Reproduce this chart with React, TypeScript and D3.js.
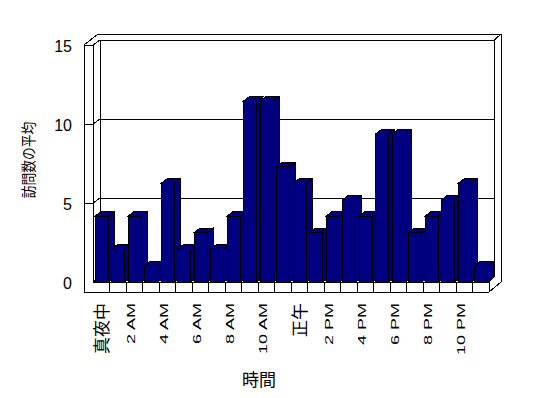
import React from 'react';
import * as d3 from 'd3';

// ---- data ----
const hours: number[] = [0, 1, 2, 3, 4, 5, 6, 7, 8, 9, 10, 11, 12, 13, 14, 15, 16, 17, 18, 19, 20, 21, 22, 23];
const visits: number[] = [4, 2, 4, 1, 6, 2, 3, 2, 4, 11, 11, 7, 6, 3, 4, 5, 4, 9, 9, 3, 4, 5, 6, 1];
const hourLabels: string[] = ['真夜中', '2 AM', '4 AM', '6 AM', '8 AM', '10 AM', '正午', '2 PM', '4 PM', '6 PM', '8 PM', '10 PM'];
const labelHours: number[] = [0, 2, 4, 6, 8, 10, 12, 14, 16, 18, 20, 22];
const yTicks: number[] = [0, 5, 10, 15];
const yTitle = '訪問数の平均';
const xTitle = '時間';

const W = 548;
const H = 398;
const NAVY = '#000080';
const LATIN = "'Liberation Sans', Arial, sans-serif";
const CJK = "'Noto Sans CJK JP', sans-serif";

export default function App() {
  const x = d3.scaleBand<number>().domain(hours).range([93, 489]).padding(0);
  const bw = x.bandwidth();
  const yF = d3.scaleLinear().domain([0, 15]).range([282, 45]); // front axis plane
  const yBar = d3.scaleLinear().domain([0, 15]).range([282, 35.25]); // bar plane
  const DX = 7, DY = 5; // wall depth
  const BDX = 6, BDY = 4.5; // bar depth
  const barW = bw * 0.8;
  const barOff = 2;
  const OUTL = 84; // outer left
  const WIN = 93; // inner left (front)
  const FLOOR = yF(0);
  const FLOORB = FLOOR + 10;
  const RIGHT = 489;
  const TOPO = 34;
  const RO = 501;
  const BR = RIGHT + DX - 1.7;

  const line = (x1: number, y1: number, x2: number, y2: number, k: string) => (
    <line key={k} x1={x1} y1={y1} x2={x2} y2={y2} stroke="#000" strokeWidth={1} />
  );

  const frameLines: JSX.Element[] = [];
  frameLines.push(line(WIN, yF(15), WIN, FLOOR, 'lw-in'));
  frameLines.push(line(WIN + DX, yF(15) - DY, WIN + DX, FLOOR - DY, 'lw-back'));
  frameLines.push(line(WIN + DX, yF(15) - DY, BR, yF(15) - DY, 'bw-top'));
  frameLines.push(line(BR, yF(15) - DY, RO, TOPO, 'bw-tr'));
  frameLines.push(line(BR, yF(15) - DY, BR, FLOOR - DY, 'bw-right'));
  frameLines.push(line(BR, FLOOR - DY, RIGHT, FLOOR, 'fl-right'));
  frameLines.push(line(WIN + DX, FLOOR - DY, BR, FLOOR - DY, 'bw-bottom'));
  frameLines.push(line(WIN, FLOOR, WIN + DX, FLOOR - DY, 'lw-bottom'));
  frameLines.push(line(WIN, FLOOR, RIGHT, FLOOR, 'fl-front'));
  frameLines.push(line(RIGHT, FLOOR, RIGHT, FLOORB, 'fl-rightedge'));
  hours.slice(1).forEach((h) => {
    const xx = x(h) as number;
    frameLines.push(line(xx, FLOOR, xx, FLOORB, 'sep' + h));
  });
  yTicks.filter((t) => t > 0).forEach((t) => {
    const yy = yF(t);
    frameLines.push(line(OUTL, yy, WIN, yy, 'tk' + t));
    frameLines.push(line(WIN, yy, WIN + DX, yy - DY, 'td' + t));
    frameLines.push(line(WIN + DX, yy - DY, BR, yy - DY, 'gl' + t));
  });

  const bars = hours.map((h, i) => {
    const x0 = (x(h) as number) + barOff;
    const x1 = x0 + barW;
    const yt = yBar(visits[i]);
    const yb = yBar(0);
    const top = `M${x0},${yt} L${x0 + BDX},${yt - BDY} L${x1 + BDX},${yt - BDY} L${x1},${yt} Z`;
    const side = `M${x1},${yt} L${x1 + BDX},${yt - BDY} L${x1 + BDX},${yb - BDY} L${x1},${yb} Z`;
    return (
      <g key={'bar' + h}>
        <path d={side} fill={NAVY} stroke="#000" strokeWidth={1} strokeLinejoin="miter" />
        <path d={top} fill={NAVY} stroke="#000" strokeWidth={1} strokeLinejoin="miter" />
        <rect x={x0} y={yt} width={barW} height={yb - yt} fill={NAVY} stroke="#000" strokeWidth={1} />
      </g>
    );
  });

  const isLatin = (s: string) => /[A-Za-z0-9]/.test(s);

  return (
    <svg
      width={W}
      height={H}
      viewBox={`0 0 ${W} ${H}`}
      style={{ position: 'absolute', left: 0, top: 0, background: '#fff' }}
    >
      <rect x={0} y={0} width={W} height={H} fill="#fff" />
      <g shapeRendering="crispEdges">
        <path
          d={`M${OUTL},${yF(15)} L${OUTL + 14},${TOPO} L${RO},${TOPO} L${RO},${FLOOR} L${RIGHT},${FLOORB} L${OUTL},${FLOORB} Z`}
          fill="#fff"
          stroke="#000"
          strokeWidth={1}
        />
        {frameLines}
        {bars}
      </g>
      {yTicks.map((t) => (
        <text
          key={'yl' + t}
          x={72}
          y={yF(t) + 1}
          textAnchor="end"
          dominantBaseline="central"
          fontFamily={LATIN}
          fontSize={16}
          fill="#000"
        >
          {t}
        </text>
      ))}
      {hourLabels.map((lab, k) => {
        const cx = (x(labelHours[k]) as number) + bw / 2;
        if (isLatin(lab)) {
          return (
            <text
              key={'xl' + k}
              transform={`translate(${cx + 0.5},303) rotate(-90) scale(1,0.6)`}
              textAnchor="end"
              fontFamily={LATIN}
              fontSize={18}
              fill="#000"
            >
              {lab}
            </text>
          );
        }
        return (
          <text
            key={'xl' + k}
            transform={`translate(${cx - 1},303) rotate(-90)`}
            textAnchor="end"
            dominantBaseline="central"
            fontFamily={CJK}
            fontSize={17}
            fill="#000"
          >
            {lab}
          </text>
        );
      })}
      <text
        transform="translate(27.5,160) rotate(-90) scale(0.85,1)"
        textAnchor="middle"
        dominantBaseline="central"
        fontFamily={CJK}
        fontSize={15}
        fill="#000"
      >
        {yTitle}
      </text>
      <text
        x={259}
        y={378}
        textAnchor="middle"
        dominantBaseline="central"
        fontFamily={CJK}
        fontSize={17}
        fill="#000"
      >
        {xTitle}
      </text>
    </svg>
  );
}
